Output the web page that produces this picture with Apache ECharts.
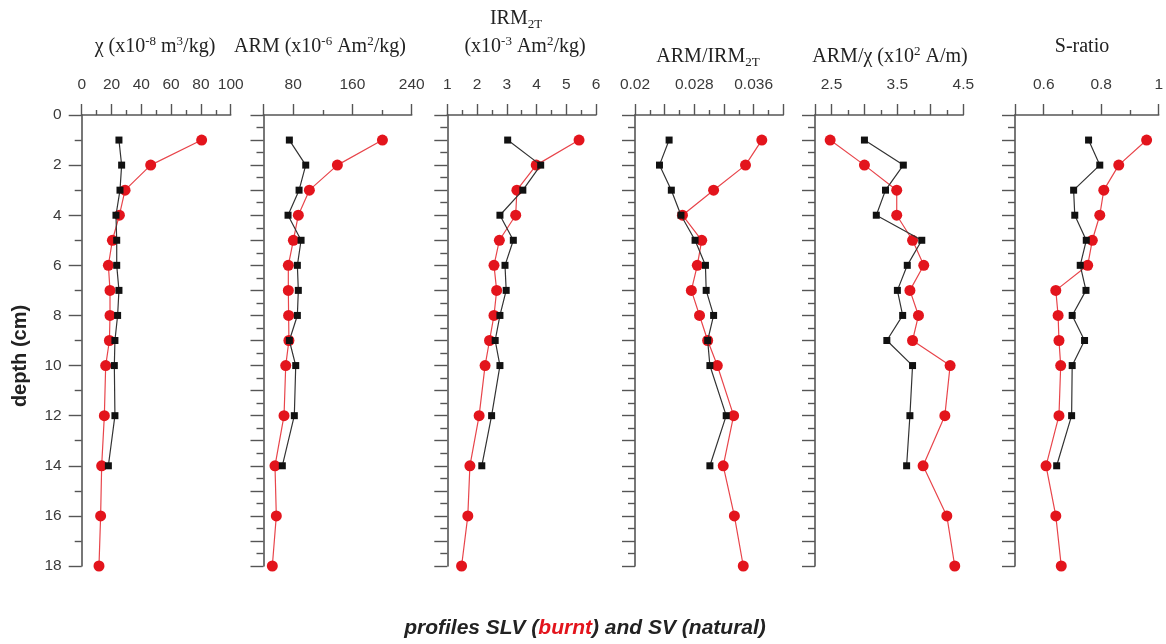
<!DOCTYPE html>
<html>
<head>
<meta charset="utf-8">
<script src="https://cdn.jsdelivr.net/npm/echarts@6/dist/echarts.min.js"></script>
<style>
html,body{margin:0;padding:0;background:#fff;}
#chart{width:1166px;height:644px;}
</style>
</head>
<body>
<div id="chart"></div>
<script>
// ---------- data ----------
const depthBurnt = [1,2,3,4,5,6,7,8,9,10,12,14,16,18];
const depthNatural = [1,2,3,4,5,6,7,8,9,10,12,14];

const chiBurnt   = [80.5,46.3,29.1,25.3,20.6,17.9,19.0,19.0,18.6,16.1,15.2,13.4,12.7,11.6];
const chiNatural = [25.0,26.8,25.7,23.0,23.5,23.5,25.0,24.1,22.3,21.9,22.3,17.9];

const armBurnt   = [200.5,139.7,101.9,87.0,80.3,73.5,73.5,73.9,74.3,70.0,67.7,55.5,57.3,51.9];
const armNatural = [74.9,97.0,88.0,73.1,90.7,85.7,87.0,85.7,74.9,83.5,81.6,65.4];

const irmBurnt   = [5.43,3.99,3.34,3.30,2.75,2.57,2.66,2.57,2.42,2.27,2.07,1.76,1.69,1.48];
const irmNatural = [3.03,4.14,3.54,2.77,3.22,2.94,2.98,2.77,2.61,2.77,2.49,2.16];

const armIrmBurnt   = [0.0371,0.0349,0.0306,0.0264,0.0290,0.0284,0.0276,0.0287,0.0298,0.0311,0.0333,0.0319,0.0334,0.0346];
const armIrmNatural = [0.0246,0.0233,0.0249,0.0262,0.0281,0.0295,0.0296,0.0306,0.0298,0.0301,0.0323,0.0301];

const armChiBurnt   = [2.48,3.00,3.49,3.49,3.73,3.90,3.69,3.82,3.73,4.30,4.22,3.89,4.25,4.37];
const armChiNatural = [3.00,3.59,3.32,3.18,3.87,3.65,3.50,3.58,3.34,3.73,3.69,3.64];

const sBurnt   = [0.958,0.861,0.809,0.795,0.769,0.753,0.642,0.650,0.653,0.659,0.653,0.608,0.642,0.661];
const sNatural = [0.756,0.795,0.704,0.708,0.748,0.727,0.747,0.699,0.742,0.699,0.697,0.645];

// tick labels / tick positions for each top axis
const chiLabels = [0,20,40,60,80,100];
const chiLong = [0,20,40,60,80,100];
const chiShort = [10,30,50,70,90];

const armLabels = [80,160,240];
const armLong = [40,80,160,240];
const armShort = [120,200];

const irmLabels = [1,2,3,4,5,6];
const irmLong = [1,2,3,4,5,6];
const irmShort = [1.5,2.5,3.5,4.5,5.5];

const armIrmLabels = [0.02,0.028,0.036];
const armIrmLong = [0.02,0.024,0.028,0.032,0.036,0.04];
const armIrmShort = [0.022,0.026,0.03,0.034,0.038];

const armChiLabels = [2.5,3.5,4.5];
const armChiLong = [2.25,2.5,3,3.5,4,4.5];
const armChiShort = [2.75,3.25,3.75,4.25];

const sLabels = [0.6,0.8,1];
const sLong = [0.5,0.6,0.8,1];
const sShort = [0.7,0.9];

const depthLabels = [0,2,4,6,8,10,12,14,16,18];

// ---------- layout ----------
const panels = [
  {left:81.7,  width:149,   min:0,    max:100,  labels:chiLabels,    long:chiLong,    short:chiShort,    burnt:chiBurnt,    natural:chiNatural},
  {left:263.5, width:148.2, min:40,   max:240,  labels:armLabels,    long:armLong,    short:armShort,    burnt:armBurnt,    natural:armNatural},
  {left:447.3, width:148.7, min:1,    max:6,    labels:irmLabels,    long:irmLong,    short:irmShort,    burnt:irmBurnt,    natural:irmNatural},
  {left:635,   width:148.3, min:0.02, max:0.04, labels:armIrmLabels, long:armIrmLong, short:armIrmShort, burnt:armIrmBurnt, natural:armIrmNatural},
  {left:815,   width:148.3, min:2.25, max:4.5,  labels:armChiLabels, long:armChiLong, short:armChiShort, burnt:armChiBurnt, natural:armChiNatural},
  {left:1015,  width:146.7, min:0.5,  max:1.0,  labels:sLabels,      long:sLong,      short:sShort,      burnt:sBurnt,      natural:sNatural}
];

const TOP = 115, HEIGHT = 451;
const axisColor = '#555';
const labelColor = '#3a3a3a';
const redC = '#e3141c';

const grid = [], xAxis = [], yAxis = [], series = [];
panels.forEach((p, i) => {
  grid.push({left:p.left, width:p.width, top:TOP, height:HEIGHT, containLabel:false});
  xAxis.push({
    type:'value', gridIndex:i, position:'top', min:p.min, max:p.max,
    axisLine:{show:true, onZero:false, lineStyle:{color:axisColor, width:1.6}},
    axisTick:{show:true, inside:false, length:11, customValues:p.long, lineStyle:{color:axisColor, width:1.4}},
    axisLabel:{show:true, customValues:p.labels, margin:22, color:labelColor, fontSize:15.5, fontFamily:'Liberation Sans',
      formatter:(v)=>String(+v.toFixed(4))},
    splitLine:{show:false}
  });
  xAxis.push({
    type:'value', gridIndex:i, position:'top', min:p.min, max:p.max,
    axisLine:{show:false, onZero:false},
    axisTick:{show:true, inside:false, length:5, customValues:p.short, lineStyle:{color:axisColor, width:1.4}},
    axisLabel:{show:false},
    splitLine:{show:false}
  });
  yAxis.push({
    type:'value', gridIndex:i, inverse:true, min:0, max:18, interval: i===0 ? 2 : 1,
    axisLine:{show:true, onZero:false, lineStyle:{color:axisColor, width:1.6}},
    axisTick:{show:true, inside:false, length:13, lineStyle:{color:axisColor, width:1.4}},
    minorTick:{show:true, splitNumber:2, length:7, lineStyle:{color:axisColor, width:1.4}},
    axisLabel:{show: i===0, margin:20, color:labelColor, fontSize:15.5, fontFamily:'Liberation Sans',
      customValues: depthLabels},
    splitLine:{show:false}, minorSplitLine:{show:false}
  });
  series.push({
    type:'line', xAxisIndex:2*i, yAxisIndex:i,
    data: depthBurnt.map((d,k)=>[p.burnt[k], d]),
    symbol:'circle', symbolSize:11,
    itemStyle:{color:redC},
    lineStyle:{color:'#e8454b', width:1.2},
    z:2
  });
  series.push({
    type:'line', xAxisIndex:2*i, yAxisIndex:i,
    data: depthNatural.map((d,k)=>[p.natural[k], d]),
    symbol:'rect', symbolSize:7,
    itemStyle:{color:'#111'},
    lineStyle:{color:'#333', width:1.2},
    z:3
  });
});

const serif = 'Liberation Serif';
const FS = 20, SS = 13;
const rich = {
  a:{fontFamily:serif, fontSize:FS, fill:'#222', lineHeight:24},
  sup:{fontFamily:serif, fontSize:SS, fill:'#222', verticalAlign:'top', lineHeight:24, padding:[0,0,9,0]},
  sub:{fontFamily:serif, fontSize:SS, fill:'#222', verticalAlign:'bottom', lineHeight:24, padding:[9,0,0,0]}
};
function T(x, y, text){
  return {type:'text', x:x, y:y, style:{text:text, rich:rich, align:'center', verticalAlign:'middle', fill:'#222', font:FS+'px Liberation Serif'}};
}

const option = {
  animation:false,
  backgroundColor:'#fff',
  grid, xAxis, yAxis, series,
  graphic:[
    T(155, 47, '{a|χ (x10}{sup|-8}{a| m}{sup|3}{a|/kg)}'),
    T(320, 47, '{a|ARM (x10}{sup|-6}{a| Am}{sup|2}{a|/kg)}'),
    T(516, 19, '{a|IRM}{sub|2T}'),
    T(525, 47, '{a|(x10}{sup|-3}{a| Am}{sup|2}{a|/kg)}'),
    T(708, 57, '{a|ARM/IRM}{sub|2T}'),
    T(890, 57, '{a|ARM/χ (x10}{sup|2}{a| A/m)}'),
    T(1082, 47, '{a|S-ratio}'),
    {type:'text', x:20, y:356, rotation:Math.PI/2,
      style:{text:'depth (cm)', font:'bold 20px Liberation Sans', fill:'#222', align:'center', verticalAlign:'middle'}},
    {type:'text', x:585, y:628,
      style:{text:'{b|profiles SLV (}{r|burnt}{b|) and SV (natural)}', align:'center', verticalAlign:'middle',
        rich:{
          b:{fontFamily:'Liberation Sans', fontWeight:'bold', fontStyle:'italic', fontSize:21, fill:'#222'},
          r:{fontFamily:'Liberation Sans', fontWeight:'bold', fontStyle:'italic', fontSize:21, fill:redC}
        }}}
  ]
};

const chart = echarts.init(document.getElementById('chart'), null, {renderer:'canvas'});
chart.setOption(option);
</script>
</body>
</html>
